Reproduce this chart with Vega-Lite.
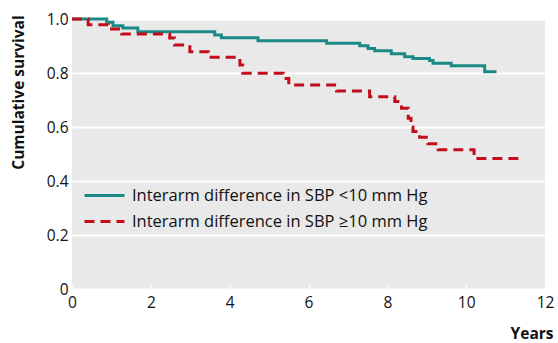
{
  "$schema": "https://vega.github.io/schema/vega-lite/v6.json",
  "width": 473,
  "height": 270,
  "autosize": "none",
  "padding": {"left": 72, "top": 19, "right": 13, "bottom": 54},
  "background": "white",
  "config": {
    "view": {"fill": "#e9e9e9", "stroke": null},
    "font": "Open Sans"
  },
  "data": {
    "values": [
      {"group": "Interarm difference in SBP <10 mm Hg", "years": 0, "survival": 1.0},
      {"group": "Interarm difference in SBP <10 mm Hg", "years": 0.88, "survival": 0.988},
      {"group": "Interarm difference in SBP <10 mm Hg", "years": 1.04, "survival": 0.975},
      {"group": "Interarm difference in SBP <10 mm Hg", "years": 1.29, "survival": 0.967},
      {"group": "Interarm difference in SBP <10 mm Hg", "years": 1.67, "survival": 0.953},
      {"group": "Interarm difference in SBP <10 mm Hg", "years": 3.62, "survival": 0.941},
      {"group": "Interarm difference in SBP <10 mm Hg", "years": 3.79, "survival": 0.931},
      {"group": "Interarm difference in SBP <10 mm Hg", "years": 4.72, "survival": 0.919},
      {"group": "Interarm difference in SBP <10 mm Hg", "years": 6.46, "survival": 0.910},
      {"group": "Interarm difference in SBP <10 mm Hg", "years": 7.30, "survival": 0.901},
      {"group": "Interarm difference in SBP <10 mm Hg", "years": 7.51, "survival": 0.891},
      {"group": "Interarm difference in SBP <10 mm Hg", "years": 7.68, "survival": 0.882},
      {"group": "Interarm difference in SBP <10 mm Hg", "years": 8.10, "survival": 0.871},
      {"group": "Interarm difference in SBP <10 mm Hg", "years": 8.44, "survival": 0.860},
      {"group": "Interarm difference in SBP <10 mm Hg", "years": 8.65, "survival": 0.854},
      {"group": "Interarm difference in SBP <10 mm Hg", "years": 9.07, "survival": 0.846},
      {"group": "Interarm difference in SBP <10 mm Hg", "years": 9.16, "survival": 0.836},
      {"group": "Interarm difference in SBP <10 mm Hg", "years": 9.62, "survival": 0.827},
      {"group": "Interarm difference in SBP <10 mm Hg", "years": 10.47, "survival": 0.805},
      {"group": "Interarm difference in SBP <10 mm Hg", "years": 10.77, "survival": 0.805},
      {"group": "Interarm difference in SBP ≥10 mm Hg", "years": 0, "survival": 1.0},
      {"group": "Interarm difference in SBP ≥10 mm Hg", "years": 0.41, "survival": 0.979},
      {"group": "Interarm difference in SBP ≥10 mm Hg", "years": 0.92, "survival": 0.963},
      {"group": "Interarm difference in SBP ≥10 mm Hg", "years": 1.26, "survival": 0.944},
      {"group": "Interarm difference in SBP ≥10 mm Hg", "years": 2.48, "survival": 0.93},
      {"group": "Interarm difference in SBP ≥10 mm Hg", "years": 2.6, "survival": 0.904},
      {"group": "Interarm difference in SBP ≥10 mm Hg", "years": 2.99, "survival": 0.879},
      {"group": "Interarm difference in SBP ≥10 mm Hg", "years": 3.46, "survival": 0.858},
      {"group": "Interarm difference in SBP ≥10 mm Hg", "years": 4.26, "survival": 0.83},
      {"group": "Interarm difference in SBP ≥10 mm Hg", "years": 4.33, "survival": 0.799},
      {"group": "Interarm difference in SBP ≥10 mm Hg", "years": 5.36, "survival": 0.78},
      {"group": "Interarm difference in SBP ≥10 mm Hg", "years": 5.5, "survival": 0.756},
      {"group": "Interarm difference in SBP ≥10 mm Hg", "years": 6.71, "survival": 0.733},
      {"group": "Interarm difference in SBP ≥10 mm Hg", "years": 7.55, "survival": 0.712},
      {"group": "Interarm difference in SBP ≥10 mm Hg", "years": 8.19, "survival": 0.694},
      {"group": "Interarm difference in SBP ≥10 mm Hg", "years": 8.36, "survival": 0.669},
      {"group": "Interarm difference in SBP ≥10 mm Hg", "years": 8.53, "survival": 0.632},
      {"group": "Interarm difference in SBP ≥10 mm Hg", "years": 8.6, "survival": 0.6},
      {"group": "Interarm difference in SBP ≥10 mm Hg", "years": 8.65, "survival": 0.583},
      {"group": "Interarm difference in SBP ≥10 mm Hg", "years": 8.82, "survival": 0.562},
      {"group": "Interarm difference in SBP ≥10 mm Hg", "years": 9.03, "survival": 0.538},
      {"group": "Interarm difference in SBP ≥10 mm Hg", "years": 9.29, "survival": 0.516},
      {"group": "Interarm difference in SBP ≥10 mm Hg", "years": 10.2, "survival": 0.483},
      {"group": "Interarm difference in SBP ≥10 mm Hg", "years": 11.36, "survival": 0.483}
    ]
  },
  "mark": {"type": "line", "interpolate": "step-after", "strokeWidth": 3, "strokeCap": "butt", "clip": false},
  "encoding": {
    "x": {
      "field": "years", "type": "quantitative",
      "scale": {"domain": [0, 12], "nice": false},
      "axis": {
        "values": [0, 2, 4, 6, 8, 10, 12],
        "title": "Years",
        "titleFontWeight": "bold", "titleFontSize": 15.5, "titleColor": "#111",
        "titleAnchor": "end", "titleAlign": "right", "titleBaseline": "middle",
        "titleX": 481, "titleY": 44,
        "domain": false, "grid": false,
        "ticks": true, "tickColor": "white", "tickSize": -4, "tickWidth": 1.5,
        "labelFontSize": 15.5, "labelColor": "#111", "labelPadding": 10, "labelFlush": false
      }
    },
    "y": {
      "field": "survival", "type": "quantitative",
      "scale": {"domain": [0, 1], "nice": false},
      "axis": {
        "values": [0, 0.2, 0.4, 0.6, 0.8, 1.0],
        "labelExpr": "datum.value == 0 ? '0' : format(datum.value, '.1f')",
        "title": "Cumulative survival",
        "titleFontWeight": "bold", "titleFontSize": 15.5, "titleColor": "#111",
        "titleAngle": -90, "titleAlign": "center", "titleBaseline": "middle",
        "titleX": -54, "titleY": 73,
        "domain": false, "ticks": false,
        "grid": true, "gridColor": "white", "gridWidth": 2,
        "labelFontSize": 15.5, "labelColor": "#111", "labelPadding": 4
      }
    },
    "color": {
      "field": "group", "type": "nominal",
      "scale": {
        "domain": ["Interarm difference in SBP <10 mm Hg", "Interarm difference in SBP ≥10 mm Hg"],
        "range": ["#1b8a86", "#c40d1c"]
      },
      "legend": {
        "orient": "none", "legendX": 21, "legendY": 165,
        "title": null,
        "symbolType": "M-2,0H2", "symbolSize": 400, "symbolStrokeWidth": 3,
        "labelFontSize": 16.5, "labelColor": "#111", "labelOffset": 16, "labelLimit": 500,
        "rowPadding": 6
      }
    },
    "strokeDash": {
      "field": "group", "type": "nominal",
      "scale": {
        "domain": ["Interarm difference in SBP <10 mm Hg", "Interarm difference in SBP ≥10 mm Hg"],
        "range": [[1, 0], [10, 6]]
      },
      "legend": {
        "orient": "none", "legendX": 21, "legendY": 165,
        "title": null,
        "symbolType": "M-2,0H2", "symbolSize": 400, "symbolStrokeWidth": 3,
        "labelFontSize": 16.5, "labelColor": "#111", "labelOffset": 16, "labelLimit": 500,
        "rowPadding": 6
      }
    }
  }
}
